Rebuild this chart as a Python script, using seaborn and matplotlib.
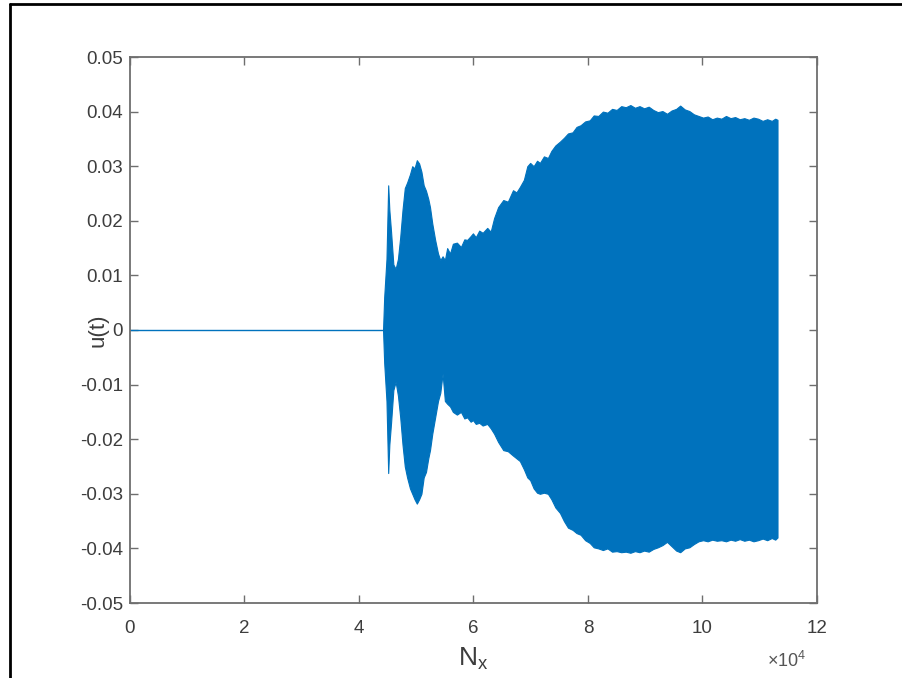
import numpy as np
import pandas as pd
import matplotlib
matplotlib.use("Agg")
import matplotlib.pyplot as plt
from matplotlib.lines import Line2D
from matplotlib.ticker import FixedLocator, FuncFormatter
import seaborn as sns

# Quiet part of the response: u(t) stays at zero until the onset
quiet_nx = [0, 44200]
quiet_u = [0.0, 0.0]

# Envelope of the oscillating response after onset
env_nx = [44200, 44400, 44800, 45100, 45300, 45600, 46000, 46400, 46800, 47200,
          47600, 48000, 48400, 48900, 49300, 49700, 50100, 50500, 50900, 51300,
          51700, 52100, 52400, 52800, 53300, 53800, 54200, 54600, 55000, 55400,
          55900, 56400, 57100, 57800, 58400, 58900, 59500, 59900, 60400, 61000,
          61600, 62400, 63000, 63600, 64300, 65200, 66000, 66900, 67500, 68100,
          68800, 69400, 69900, 70500, 71100, 71600, 72300, 73000, 73600, 74300,
          75100, 75800, 76500, 77300, 78000, 78700, 79500, 80300, 81000, 81800,
          82600, 83400, 84200, 85000, 85800, 86600, 87400, 88200, 89000, 89800,
          90600, 91400, 92200, 93000, 93800, 94600, 95400, 96100, 96900, 97700,
          98500, 99300, 100100, 100900, 101700, 102500, 103300, 104100, 104900, 105700,
          106500, 107300, 108100, 108900, 109700, 110500, 111300, 112100, 112700, 113100]
env_upper = [0.0, 0.006, 0.013, 0.0265, 0.022, 0.018, 0.012, 0.0112, 0.013, 0.017,
             0.022, 0.026, 0.027, 0.0285, 0.0300, 0.0296, 0.0311, 0.0305, 0.029, 0.0265,
             0.0255, 0.024, 0.0225, 0.0195, 0.0165, 0.0140, 0.0128, 0.0135, 0.0128, 0.0150,
             0.0140, 0.0158, 0.0160, 0.0152, 0.0166, 0.0165, 0.0172, 0.0177, 0.0170, 0.0182,
             0.0178, 0.0187, 0.0180, 0.0205, 0.0225, 0.0238, 0.0235, 0.0256, 0.0252, 0.0262,
             0.0275, 0.0300, 0.0306, 0.0300, 0.0310, 0.0306, 0.0318, 0.0315, 0.0328, 0.0338,
             0.0345, 0.0352, 0.0360, 0.0362, 0.0372, 0.0375, 0.0382, 0.0384, 0.0393, 0.0392,
             0.0400, 0.0398, 0.0405, 0.0403, 0.0410, 0.0408, 0.0412, 0.0407, 0.0410, 0.0406,
             0.0409, 0.0403, 0.0399, 0.0401, 0.0396, 0.0402, 0.0405, 0.0411, 0.0404, 0.0401,
             0.0395, 0.0392, 0.0389, 0.0391, 0.0386, 0.0389, 0.0387, 0.0392, 0.0388, 0.0390,
             0.0386, 0.0388, 0.0385, 0.0389, 0.0387, 0.0383, 0.0386, 0.0383, 0.0387, 0.0385]
env_lower = [0.0, -0.006, -0.013, -0.0262, -0.021, -0.017, -0.011, -0.0095, -0.012, -0.016,
             -0.021, -0.025, -0.027, -0.029, -0.030, -0.031, -0.0318, -0.031, -0.030, -0.027,
             -0.026, -0.0235, -0.022, -0.019, -0.016, -0.013, -0.0115, -0.0080, -0.013, -0.0135,
             -0.014, -0.0150, -0.0155, -0.0150, -0.0162, -0.0160, -0.0168, -0.0165, -0.0172, -0.0170,
             -0.0175, -0.0172, -0.0180, -0.0190, -0.0205, -0.0220, -0.0222, -0.0230, -0.0235, -0.0240,
             -0.0255, -0.0270, -0.0275, -0.0290, -0.0298, -0.0300, -0.0298, -0.0300, -0.0310, -0.0325,
             -0.0335, -0.0350, -0.0362, -0.0366, -0.0372, -0.0375, -0.0385, -0.0390, -0.0398, -0.0400,
             -0.0403, -0.0400, -0.0406, -0.0405, -0.0407, -0.0406, -0.0408, -0.0405, -0.0407, -0.0404,
             -0.0406, -0.0401, -0.0398, -0.0394, -0.0388, -0.0396, -0.0404, -0.0407, -0.0400, -0.0398,
             -0.0392, -0.0387, -0.0385, -0.0387, -0.0384, -0.0386, -0.0385, -0.0387, -0.0384, -0.0386,
             -0.0383, -0.0386, -0.0384, -0.0387, -0.0385, -0.0382, -0.0385, -0.0381, -0.0384, -0.0380]

x_ticks = [0, 20000, 40000, 60000, 80000, 100000, 120000]
y_ticks = [-0.05, -0.04, -0.03, -0.02, -0.01, 0, 0.01, 0.02, 0.03, 0.04, 0.05]

line_color = "#0072BD"
axis_color = "#6e6e6e"
text_color = "#3d3d3d"

sns.set_theme(style="white")
plt.rcParams["font.family"] = ["Liberation Sans", "DejaVu Sans"]
plt.rcParams["mathtext.fontset"] = "custom"
plt.rcParams["mathtext.rm"] = "Liberation Sans"

fig = plt.figure(figsize=(9.03, 6.78), dpi=100)
fig.patch.set_facecolor("white")
ax = fig.add_axes([130 / 903, 1 - 603 / 678, (817 - 130) / 903, (603 - 57) / 678])

quiet = pd.DataFrame({"Nx": quiet_nx, "u": quiet_u})
sns.lineplot(data=quiet, x="Nx", y="u", ax=ax, color=line_color, lw=1.0)

env = pd.DataFrame({"Nx": env_nx, "upper": env_upper, "lower": env_lower})
ax.fill_between(env["Nx"], env["lower"], env["upper"], color=line_color, lw=0.8,
                edgecolor=line_color)

ax.set_xlim(0, 120000)
ax.set_ylim(-0.05, 0.05)
ax.xaxis.set_major_locator(FixedLocator(x_ticks))
ax.yaxis.set_major_locator(FixedLocator(y_ticks))
ax.xaxis.set_major_formatter(FuncFormatter(lambda v, p: f"{v / 1e4:g}"))
ax.yaxis.set_major_formatter(FuncFormatter(lambda v, p: "0" if abs(v) < 1e-12 else f"{v:.2f}"))

for s in ax.spines.values():
    s.set_visible(True)
    s.set_color(axis_color)
    s.set_linewidth(1.3)

ax.tick_params(axis="both", which="major", direction="in", length=6, width=1.0,
               color=axis_color, labelcolor=text_color, labelsize=13.5,
               top=True, right=True, bottom=True, left=True)
ax.tick_params(axis="x", pad=12)
ax.tick_params(axis="y", pad=5)

ax.set_xlabel(r"$\mathregular{N_x}$", fontsize=19, color=text_color)
ax.xaxis.set_label_coords(0.5, -0.078)
ax.set_ylabel("u(t)", fontsize=16, color=text_color)
ax.yaxis.set_label_coords(-0.031, 0.5)
ax.text(0.985, -0.088, r"$\mathregular{\times 10^4}$", transform=ax.transAxes,
        ha="right", va="top", fontsize=13, color="#555555")

# Frame around the figure (top and left edges)
fig.add_artist(Line2D([10 / 903, 10 / 903], [0, 1 - 4 / 678], transform=fig.transFigure,
                      color="black", lw=2.0))
fig.add_artist(Line2D([10 / 903, 1], [1 - 4 / 678, 1 - 4 / 678], transform=fig.transFigure,
                      color="black", lw=2.0))

fig.savefig("out.png", dpi=100, facecolor="white")
